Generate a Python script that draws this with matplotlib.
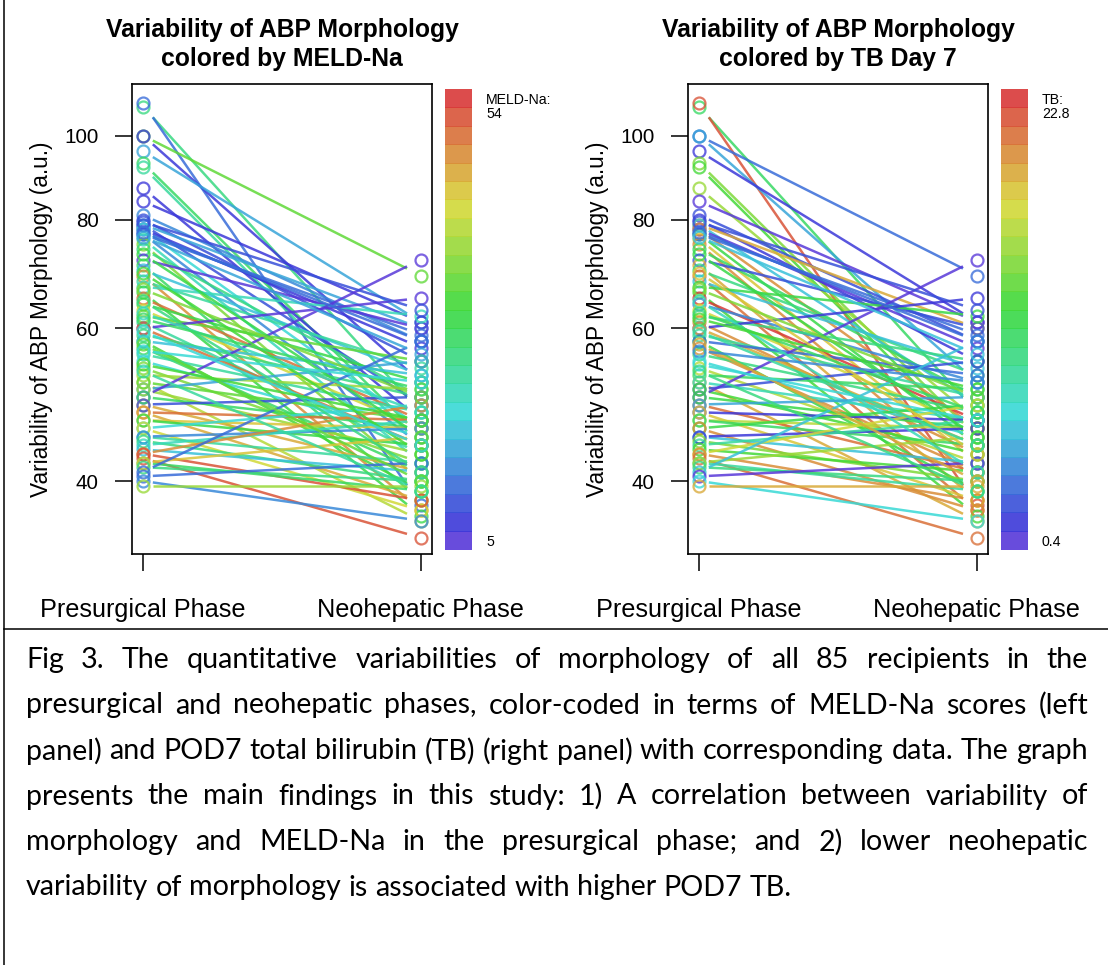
import matplotlib
matplotlib.use('agg')
import matplotlib.pyplot as plt
import numpy as np
import colorsys

# paired values per recipient (a.u.)
pre = [108, 109, 100, 100, 96, 93, 92, 87, 84, 81, 80, 79, 79, 78, 78, 77, 77, 76, 75, 74,
       72, 71, 70, 69, 68, 67, 66, 65, 64, 63, 62, 61, 60, 60, 59, 58, 58, 57, 56, 55,
       54, 53, 52, 52, 51, 51, 50, 50, 49, 49, 48, 48, 47, 47, 46, 46, 45, 45, 44.5, 44,
       43.5, 43, 43, 42.5, 42, 42, 41.5, 41, 40.5, 40, 39.5, 79.5, 77.5, 76.5, 73, 69.5, 66.5, 64.5, 62.5, 61.5,
       59.5, 57.5, 56.5, 54.5, 53.5]
post = [48, 37.5, 69, 52, 61, 45, 44, 47, 61, 58, 55, 60, 49, 57, 46, 44, 59, 42, 40, 50,
        60, 38, 53, 37, 54, 62, 36.5, 47, 52, 46, 55, 43, 65, 44, 50, 39, 53, 41, 48, 45,
        42, 51, 36, 47, 55, 43, 72, 46, 41, 50, 47, 38, 46, 44, 49, 37, 42, 46, 40, 47,
        41, 49, 38, 34.4, 39, 45, 40, 58, 42, 36, 39.5, 63, 58, 56, 45, 43, 50, 41, 48, 51,
        44, 40, 52, 47, 39]
meld = [25, 12, 33, 8, 15, 27, 24, 8, 7, 14, 10, 16, 9, 7, 20, 13, 11, 22, 36, 26,
        6, 28, 18, 47, 23, 21, 29, 50, 30, 41, 34, 24, 6, 49, 26, 31, 17, 28, 23, 19,
        35, 37, 40, 33, 16, 38, 6, 27, 45, 9, 50, 46, 44, 30, 20, 42, 24, 14, 26, 21,
        18, 48, 52, 51, 27, 43, 25, 12, 11, 13, 38, 10, 12, 15, 29, 32, 36, 25, 22, 28,
        20, 33, 19, 31, 24]
tb = [11, 21.5, 3, 5, 1.0, 14, 13, 15, 0.8, 2, 1.5, 19, 6, 0.7, 20, 12, 3, 18, 20, 11,
      2.5, 19, 10, 21, 6, 12, 13, 22.5, 4, 17, 10, 20, 1.5, 19, 9, 12, 3, 20, 10, 7,
      16, 11, 19, 8, 2.5, 13, 0.6, 12, 21, 5, 1, 18, 16, 11, 12, 20, 6, 1.2, 14, 9,
      13, 17, 20, 21, 9, 15, 10, 6, 0.4, 7, 19, 2, 3, 6, 12, 18, 14, 8, 11, 13,
      9, 19, 4, 7, 10]

panels = [
    dict(title='Variability of ABP Morphology\ncolored by MELD-Na', values=meld,
         lo=5, hi=54, top_label='MELD-Na:\n54', bottom_label='5'),
    dict(title='Variability of ABP Morphology\ncolored by TB Day 7', values=tb,
         lo=0.4, hi=22.8, top_label='TB:\n22.8', bottom_label='0.4'),
]

NCOL = 25
palette = [colorsys.hsv_to_rgb(h, 0.74, 0.85) for h in np.linspace(0.70, 0.0, NCOL)]

W, H = 1108, 965
plt.rcParams['font.family'] = 'Liberation Sans'
fig = plt.figure(figsize=(W / 100, H / 100), dpi=100)


def px_box(x0, y0, x1, y1):
    return [x0 / W, 1 - y1 / H, (x1 - x0) / W, (y1 - y0) / H]


pre_a = np.array(pre, float)
post_a = np.array(post, float)
lpre, lpost = np.log(pre_a), np.log(post_a)
xs0, xs1 = 1.035, 1.95
ys0 = np.exp(lpre + (xs0 - 1) * (lpost - lpre))
ys1 = np.exp(lpre + (xs1 - 1) * (lpost - lpre))

for k, p in enumerate(panels):
    off = 556 * k
    ax = fig.add_axes(px_box(132 + off, 84, 432 + off, 554))
    vals = np.array(p['values'], float)
    idx = np.clip(np.round((vals - p['lo']) / (p['hi'] - p['lo']) * (NCOL - 1)), 0, NCOL - 1).astype(int)
    cols = [palette[i] for i in idx]

    for i in range(len(pre)):
        ax.plot([1], [pre[i]], 'o', ms=8.6, mfc='none', mec=cols[i], mew=1.6, alpha=0.78)
        ax.plot([2], [post[i]], 'o', ms=8.6, mfc='none', mec=cols[i], mew=1.6, alpha=0.78)
        ax.plot([xs0, xs1], [ys0[i], ys1[i]], color=cols[i], lw=1.8, alpha=0.85,
                solid_capstyle='butt')

    ax.set_yscale('log')
    ax.set_ylim(32.96, 114.7)
    ax.set_xlim(0.96, 2.04)
    ax.set_yticks([40, 60, 80, 100])
    ax.set_yticklabels(['40', '60', '80', '100'])
    ax.yaxis.set_minor_locator(matplotlib.ticker.NullLocator())
    ax.set_xticks([1, 2])
    ax.set_xticklabels(['Presurgical Phase', 'Neohepatic Phase'])
    ax.tick_params(axis='y', length=12, width=1.1, labelsize=14.9, pad=12)
    ax.tick_params(axis='x', length=12, width=1.1, labelsize=18.2, pad=20)
    for s in ax.spines.values():
        s.set_linewidth(1.2)
    ax.set_ylabel('Variability of ABP Morphology (a.u.)', fontsize=16.3, labelpad=8)
    ax.set_title(p['title'], fontsize=17.8, fontweight='bold', pad=13, linespacing=1.25)

    # colour key
    cax = fig.add_axes(px_box(445 + off, 89, 472 + off, 550))
    cax.bar(np.zeros(NCOL), np.ones(NCOL) * 1.06, bottom=np.arange(NCOL) - 0.03,
            width=1.0, color=palette, alpha=0.9, linewidth=0)
    cax.set_xlim(-0.5, 0.5)
    cax.set_ylim(-0.03, NCOL + 0.03)
    cax.axis('off')
    fig.text((486 + off) / W, 1 - 93 / H, p['top_label'], fontsize=10.2, va='top',
             ha='left', linespacing=1.0)
    fig.text((486 + off) / W, 1 - 542 / H, p['bottom_label'], fontsize=10.2,
             va='center', ha='left')

# frame lines of the figure cell
fig.add_artist(plt.Line2D([4 / W, 4 / W], [0, 1], color='black', lw=1.1))
fig.add_artist(plt.Line2D([4 / W, 1], [1 - 629 / H, 1 - 629 / H], color='black', lw=1.1))

# justified caption
caption = [
    "Fig 3. The quantitative variabilities of morphology of all 85 recipients in the",
    "presurgical and neohepatic phases, color-coded in terms of MELD-Na scores (left",
    "panel) and POD7 total bilirubin (TB) (right panel) with corresponding data. The graph",
    "presents the main findings in this study: 1) A correlation between variability of",
    "morphology and MELD-Na in the presurgical phase; and 2) lower neohepatic",
    "variability of morphology is associated with higher POD7 TB.",
]
cap_font = dict(family='Lato', fontsize=20.6)
x_left, x_right = 26, 1088
renderer = fig.canvas.get_renderer()
for j, line in enumerate(caption):
    yc = 1 - (660 + 45.5 * j) / H
    words = line.split(' ')
    texts = [fig.text(0, yc, w, va='center', ha='left', **cap_font) for w in words]
    widths = [t.get_window_extent(renderer).width for t in texts]
    if j < len(caption) - 1:
        gap = (x_right - x_left - sum(widths)) / (len(words) - 1)
    else:
        sp = fig.text(0, 0, 'a a', **cap_font)
        sp2 = fig.text(0, 0, 'aa', **cap_font)
        gap = sp.get_window_extent(renderer).width - sp2.get_window_extent(renderer).width
        sp.remove()
        sp2.remove()
    x = x_left
    for t, w in zip(texts, widths):
        t.set_x(x / W)
        x += w + gap

fig.savefig('out.png', dpi=100)
